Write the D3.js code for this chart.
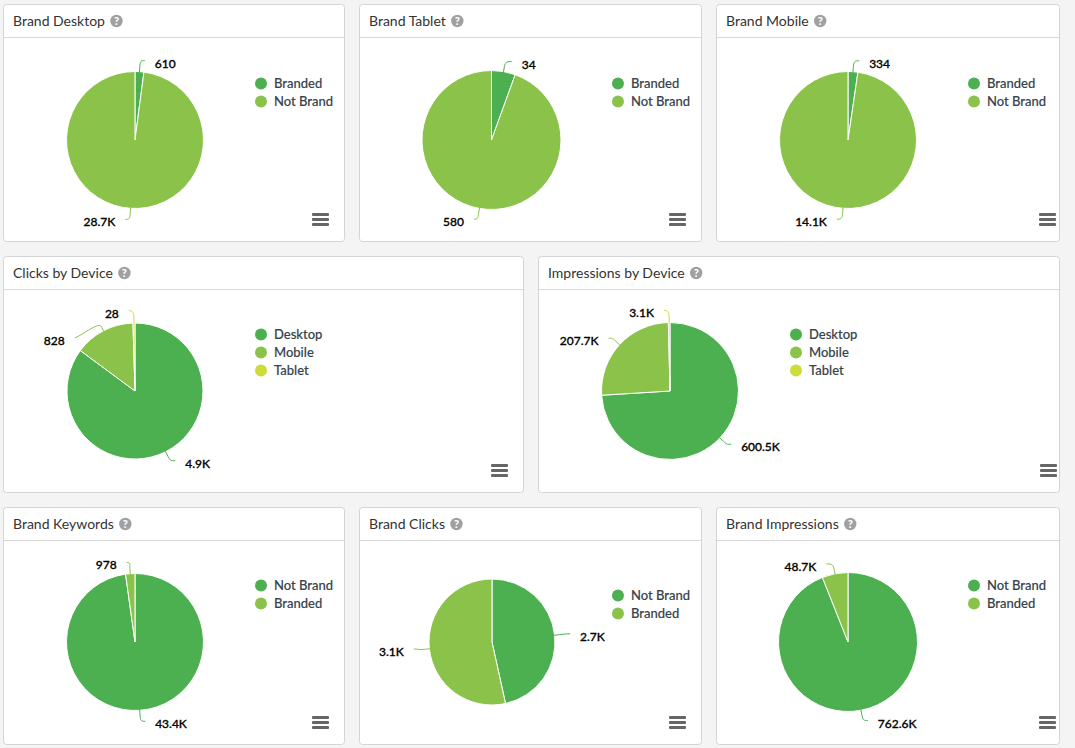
<!DOCTYPE html>
<html><head><meta charset="utf-8">
<script src="https://cdn.jsdelivr.net/npm/d3@7"></script>
<style>
html,body{margin:0;padding:0;background:#f4f4f4;overflow:hidden}
svg{display:block}
text{font-family:Lato,sans-serif}
.title{font-size:14px;fill:#333}
.legend{font-size:13px;font-weight:500;fill:#37424c;stroke:#37424c;stroke-width:.15px}
.value{font-size:12px;font-weight:500;fill:#000;stroke:#000;stroke-width:.3px;paint-order:stroke}
.help{font-size:11px;font-weight:900;fill:#fff}
</style></head><body>
<svg id="chart" width="1075" height="748"></svg>
<script>
// ---- data ----
const titles = ["Brand Desktop","Brand Tablet","Brand Mobile","Clicks by Device","Impressions by Device","Brand Keywords","Brand Clicks","Brand Impressions"];
const brandCats = ["Branded","Not Brand"];
const deviceCats = ["Desktop","Mobile","Tablet"];
const keywordCats = ["Not Brand","Branded"];
const brandDesktop = [610,28700];
const brandTablet = [34,580];
const brandMobile = [334,14100];
const clicksByDevice = [4900,828,28];
const impressionsByDevice = [600500,207700,3100];
const brandKeywords = [43400,978];
const brandClicks = [2700,3100];
const brandImpressions = [762600,48700];
const brandDesktopLabels = ["610","28.7K"];
const brandTabletLabels = ["34","580"];
const brandMobileLabels = ["334","14.1K"];
const clicksLabels = ["4.9K","828","28"];
const impressionsLabels = ["600.5K","207.7K","3.1K"];
const keywordsLabels = ["43.4K","978"];
const brandClicksLabels = ["2.7K","3.1K"];
const brandImpressionsLabels = ["762.6K","48.7K"];

// ---- layout (not data) ----
const palette = ["#4caf50","#8bc34a","#cddc39"];
const panels = [
 {x:3,y:4,w:342,h:238,cx:135,cy:140,r:68.5,lx:261,ly:83.5,mr:33,cats:brandCats,vals:brandDesktop,labs:brandDesktopLabels,la:[7,187],d:12},
 {x:359,y:4,w:343,h:238,cx:491.5,cy:140,r:69.5,lx:618,ly:83.5,mr:33,cats:brandCats,vals:brandTablet,labs:brandTabletLabels,la:[14.5,192.5],d:12},
 {x:716,y:4,w:344,h:238,cx:848,cy:140,r:68.5,lx:974,ly:83.5,mr:21,cats:brandCats,vals:brandMobile,labs:brandMobileLabels,la:[8,188],d:12},
 {x:3,y:256,w:521,h:237,cx:135,cy:391,r:68,lx:261,ly:334.5,mr:33,cats:deviceCats,vals:clicksByDevice,labs:clicksLabels,la:[150,311.5,355.6],d:13},
 {x:538,y:256,w:522,h:237,cx:670,cy:391,r:68.5,lx:796,ly:334.5,mr:20,cats:deviceCats,vals:impressionsByDevice,labs:impressionsLabels,la:[131,310.6,355.7],d:13},
 {x:3,y:507,w:342,h:238,cx:135,cy:642,r:68.5,lx:261,ly:585.5,mr:33,cats:keywordCats,vals:brandKeywords,labs:keywordsLabels,la:[172.7,354],d:12},
 {x:359,y:507,w:343,h:238,cx:492,cy:642,r:63,lx:618,ly:595.5,mr:33,cats:keywordCats,vals:brandClicks,labs:brandClicksLabels,la:[84,264.9],d:16},
 {x:716,y:507,w:344,h:238,cx:848,cy:642,r:69.5,lx:974,ly:585.5,mr:21,cats:keywordCats,vals:brandImpressions,labs:brandImpressionsLabels,la:[165.8,344.4],d:12}
];

const svg = d3.select("#chart");
const rad = d => d*Math.PI/180;
const polar = (cx,cy,r,a) => [cx+r*Math.sin(a), cy-r*Math.cos(a)];

panels.forEach((p,pi)=>{
  const g = svg.append("g");
  g.append("rect").attr("x",p.x+.5).attr("y",p.y+.5).attr("width",p.w-1).attr("height",p.h-1)
    .attr("rx",3).attr("fill","#fff").attr("stroke","#d4d4d4");
  g.append("line").attr("x1",p.x+1).attr("x2",p.x+p.w-1).attr("y1",p.y+33.5).attr("y2",p.y+33.5).attr("stroke","#d9d9d9");
  const title = g.append("text").attr("class","title").attr("x",p.x+10).attr("y",p.y+22).text(titles[pi]);
  const tw = title.node().getComputedTextLength();
  const hx = p.x+10+tw+11.5, hy = p.y+17;
  g.append("circle").attr("cx",hx).attr("cy",hy).attr("r",6.2).attr("fill","#a0a0a0");
  g.append("text").attr("class","help").attr("x",hx).attr("y",hy+4).attr("text-anchor","middle").text("?");

  // pie
  const color = d3.scaleOrdinal().domain(p.cats).range(palette);
  const arcs = d3.pie().sort(null).value((d,i)=>d.v)(p.vals.map((v,i)=>({v,c:p.cats[i],l:p.labs[i]})));
  const arc = d3.arc().innerRadius(0).outerRadius(p.r);
  const pg = g.append("g").attr("transform",`translate(${p.cx},${p.cy})`);
  pg.selectAll("path.s").data(arcs).join("path").attr("class","s").attr("d",arc)
    .attr("fill",d=>color(d.data.c)).attr("stroke","#fff").attr("stroke-width",1).attr("stroke-linejoin","round");

  // leaders + labels
  arcs.forEach((a,i)=>{
    const mid = (a.startAngle+a.endAngle)/2;
    const touch = polar(p.cx,p.cy,p.r-.5,mid);
    const brk = polar(p.cx,p.cy,p.r+5,mid);
    const end = polar(p.cx,p.cy,p.r+p.d-.5,rad(p.la[i]));
    const dir = end[0]>=p.cx ? 1 : -1;
    g.append("path").attr("fill","none").attr("stroke",color(a.data.c)).attr("stroke-width",1)
      .attr("d",`M${end[0]},${end[1]}C${end[0]-dir*4},${end[1]} ${2*brk[0]-touch[0]},${2*brk[1]-touch[1]} ${brk[0]},${brk[1]}L${touch[0]},${touch[1]}`);
    g.append("text").attr("class","value").attr("x",end[0]+dir*10).attr("y",end[1]+7)
      .attr("text-anchor",dir>0?"start":"end").text(a.data.l);
  });

  // legend
  p.cats.forEach((c,i)=>{
    const y = p.ly+i*18;
    g.append("circle").attr("cx",p.lx).attr("cy",y).attr("r",6).attr("fill",color(c));
    g.append("text").attr("class","legend").attr("x",p.lx+13).attr("y",y+4.5).text(c);
  });

  // menu
  const mx = p.x+p.w-p.mr, my = p.y+p.h-29;
  d3.range(3).forEach(i=>g.append("rect").attr("x",mx).attr("y",my+i*5).attr("width",17).attr("height",3).attr("rx",1).attr("fill","#666"));
});
</script>
</body></html>
